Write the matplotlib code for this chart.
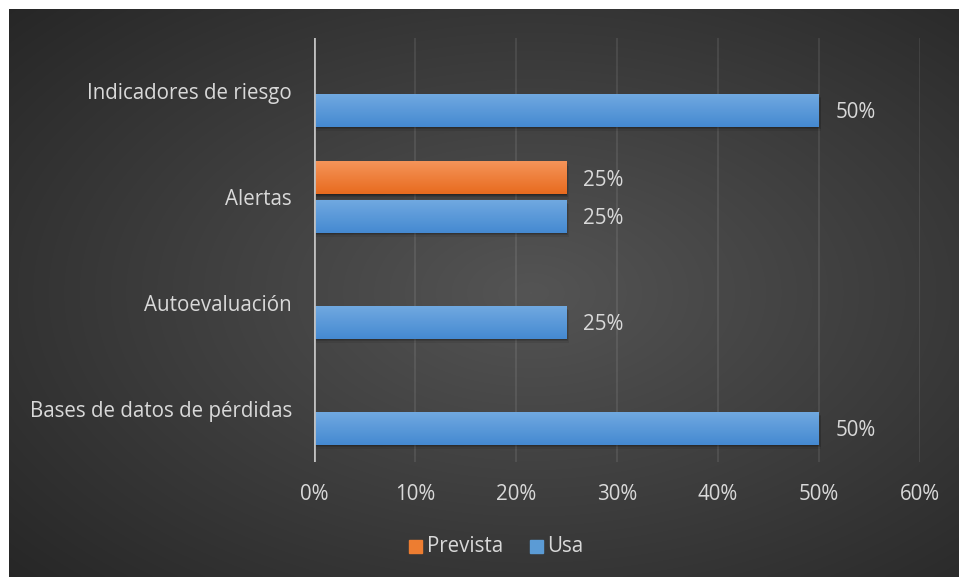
import numpy as np
import matplotlib.pyplot as plt
from matplotlib.patches import Rectangle

categories = ["Bases de datos de pérdidas", "Autoevaluación", "Alertas", "Indicadores de riesgo"]
prevista = [0, 0, 25, 0]
usa = [50, 25, 25, 50]
ticks = [0, 10, 20, 30, 40, 50, 60]

plt.rcParams['font.family'] = ['Open Sans', 'DejaVu Sans']
txt = "#d9d9d9"
fs = 14.8

W, H = 959, 577
fig = plt.figure(figsize=(W / 100, H / 100), dpi=100)
fig.patch.set_facecolor("white")

# dark radial background
bg = fig.add_axes([9 / W, 0, 1 - 9 / W, 1 - 9 / H])
yy, xx = np.mgrid[0:1:300j, 0:1:500j]
r = np.sqrt(((xx - 0.55) / 0.75) ** 2 + ((yy - 0.5) / 0.75) ** 2)
shade = np.clip(0.33 - 0.18 * r, 0.15, 0.35)
bg.imshow(np.dstack([shade] * 3), aspect="auto", extent=[0, 1, 0, 1], interpolation="bicubic")
bg.axis("off")

x0, x1 = 314, 920
y0, y1 = 38, 462
ax = fig.add_axes([x0 / W, 1 - y1 / H, (x1 - x0) / W, (y1 - y0) / H])
ax.patch.set_alpha(0)

h = 0.31
off = 0.18
y = np.arange(len(categories))


def grad_bar(yc, val, top, bot):
    if val <= 0:
        return
    # soft drop shadow
    for k, a in [(0.04, 0.08), (0.028, 0.12), (0.016, 0.15), (0.006, 0.18)]:
        ax.add_patch(Rectangle((k * 6, yc - h / 2 - k), val, h, color="black", alpha=a, lw=0, zorder=2))
    cols = np.linspace(np.array(top), np.array(bot), 64)[:, None, :]
    ax.imshow(cols, aspect="auto", extent=[0, val, yc - h / 2, yc + h / 2], origin="upper", zorder=3)
    ax.text(val + 1.6, yc - 0.02, f"{val}%", color=txt, fontsize=fs, va="center", ha="left", zorder=4)


for i in range(len(categories)):
    grad_bar(y[i] + off, prevista[i], (0.96, 0.58, 0.35), (0.91, 0.42, 0.12))
    grad_bar(y[i] - off, usa[i], (0.44, 0.66, 0.88), (0.27, 0.54, 0.82))

ax.set_xlim(0, 60)
ax.set_ylim(-0.5, 3.5)
ax.set_xticks(ticks)
ax.set_xticklabels([f"{t}%" for t in ticks], color=txt, fontsize=fs)
ax.set_yticks(y)
ax.set_yticklabels(categories, color=txt, fontsize=fs)
ax.tick_params(length=0, pad=16, axis="x")
ax.tick_params(length=0, pad=16, axis="y")
for t in ticks[1:]:
    ax.axvline(t, color="white", alpha=0.09, lw=1.4, zorder=1)
ax.axvline(0, color="#bfbfbf", lw=2, zorder=5)
for s in ax.spines.values():
    s.set_visible(False)

# legend
lx = fig.add_axes([0, 0, 1, 1])
lx.axis("off")
lx.set_xlim(0, W)
lx.set_ylim(H, 0)
lx.add_patch(Rectangle((409, 540), 13, 13, color="#ed7d31"))
lx.text(427, 546, "Prevista", color=txt, fontsize=fs, va="center")
lx.add_patch(Rectangle((530, 540), 13, 13, color="#5b9bd5"))
lx.text(547, 546, "Usa", color=txt, fontsize=fs, va="center")

fig.savefig("out.png", dpi=100, facecolor=fig.get_facecolor())
